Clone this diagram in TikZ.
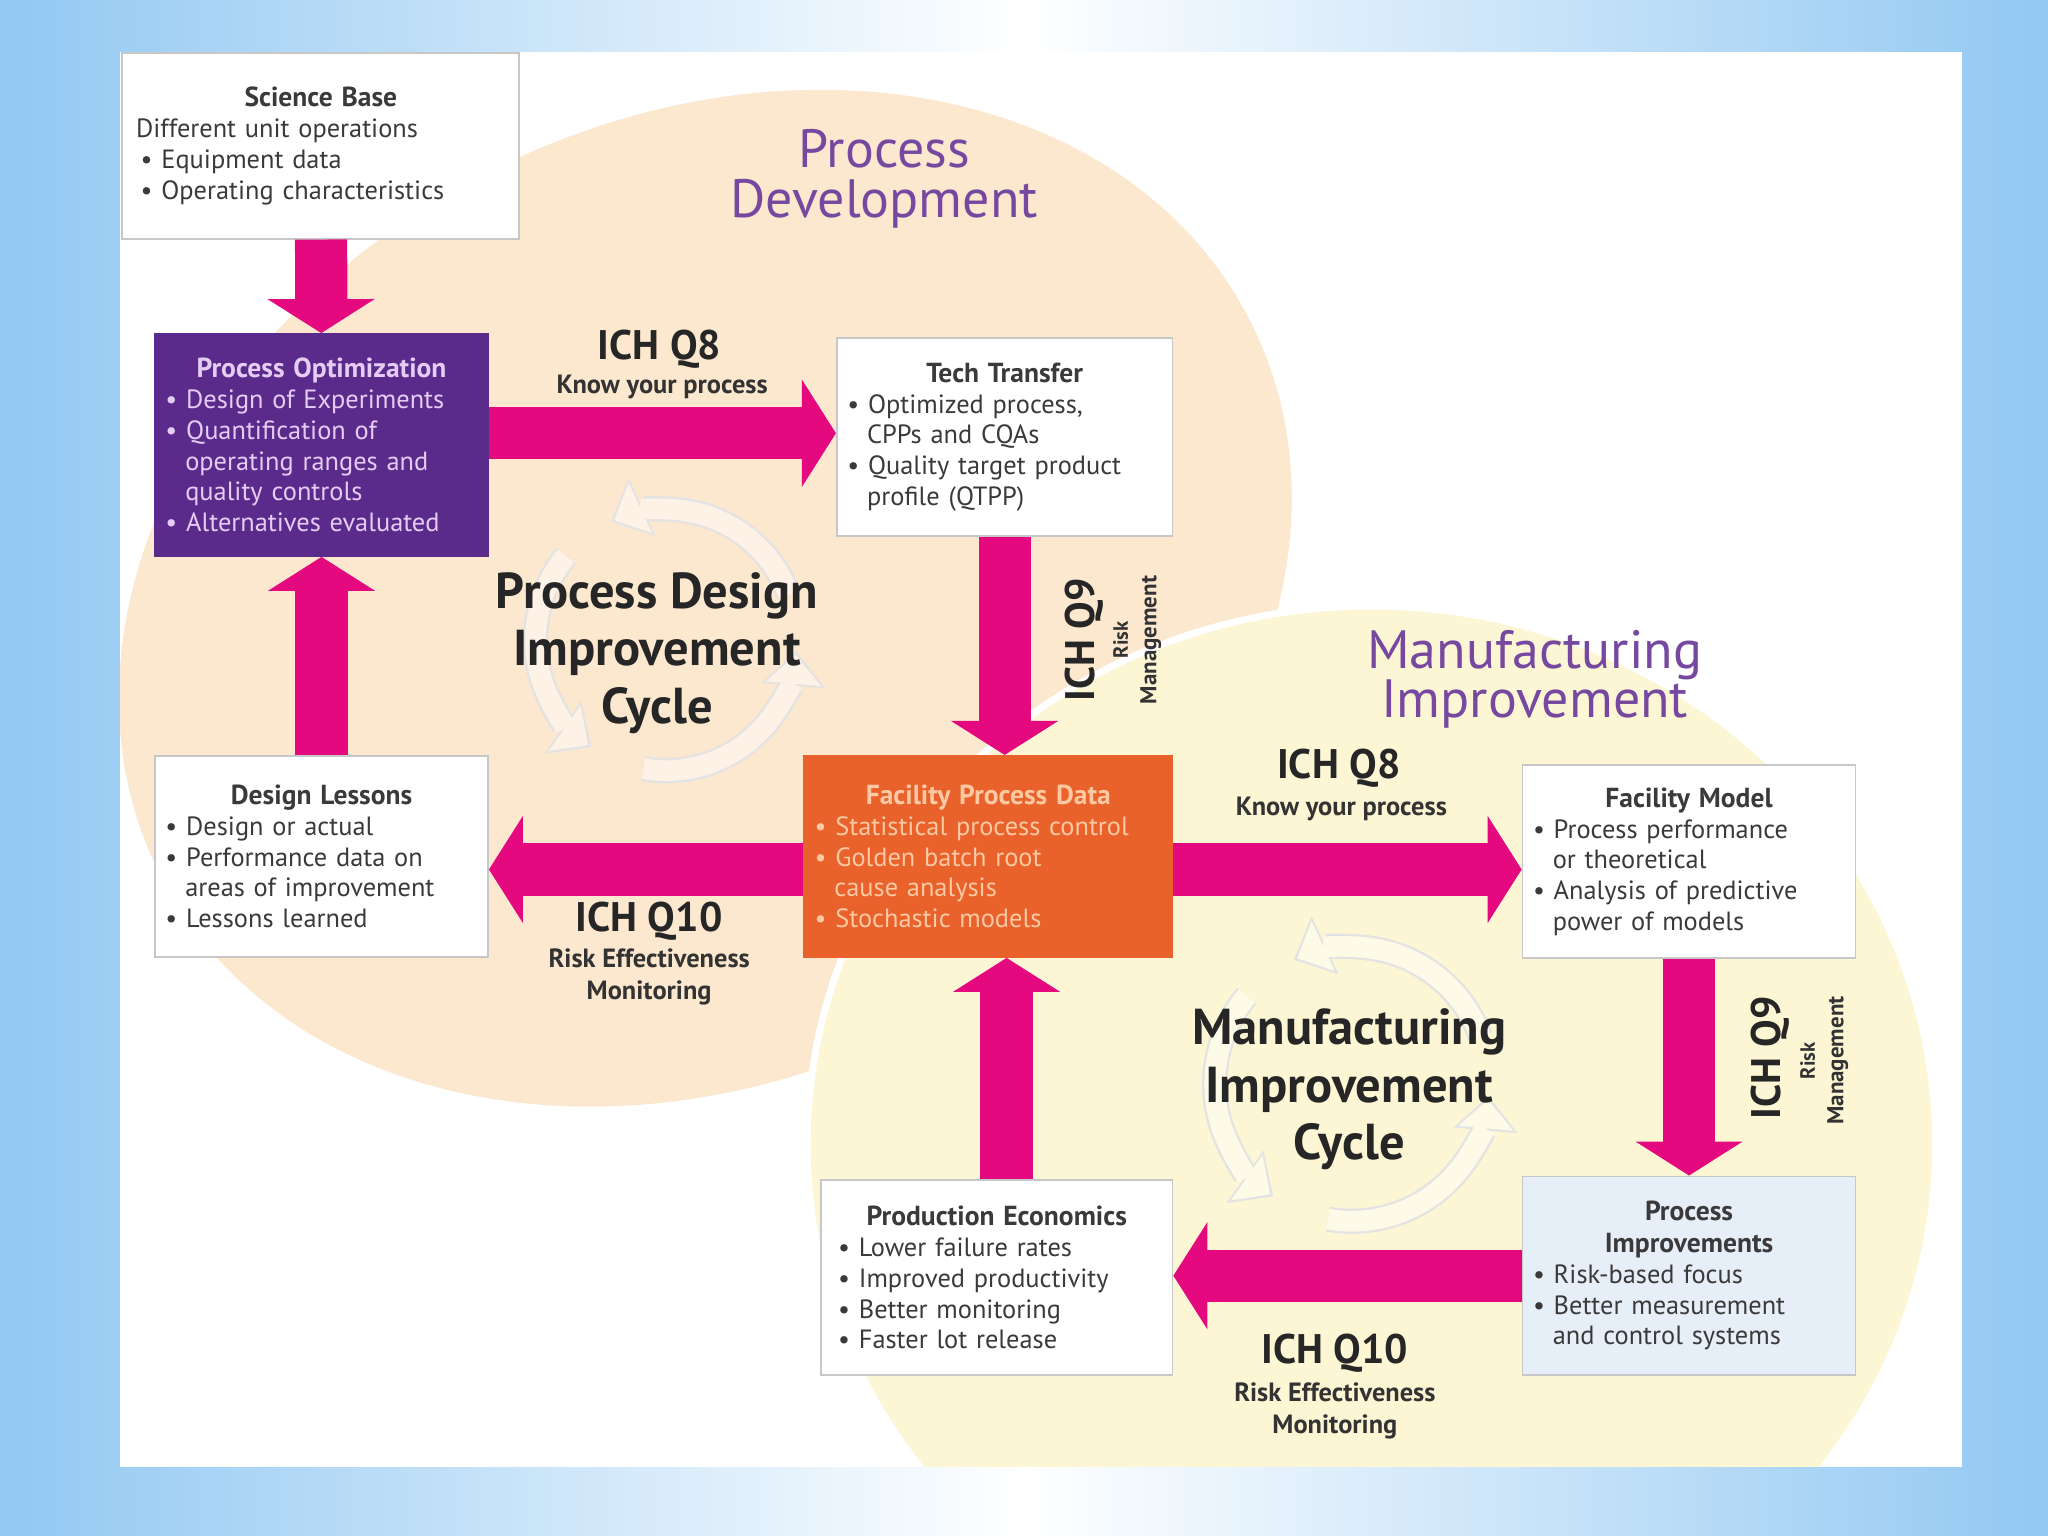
\documentclass[tikz,border=0pt]{standalone}
\usepackage{fontspec}
\setmainfont{PT Sans}
\usetikzlibrary{arrows.meta,calc}
\definecolor{sky}{HTML}{92C8F2}
\definecolor{peach}{HTML}{FCE7CF}
\definecolor{cream}{HTML}{FCF6D4}
\definecolor{mag}{HTML}{E5097F}
\definecolor{purp}{HTML}{5B2B8C}
\definecolor{purptxt}{HTML}{E4CCF4}
\definecolor{orng}{HTML}{E9622C}
\definecolor{orngtxt}{HTML}{FDC8A2}
\definecolor{ttl}{HTML}{7648A0}
\definecolor{pifill}{HTML}{E6EEF8}
\definecolor{txt}{HTML}{3A3A3A}
\begin{document}
\begin{tikzpicture}[x=0.02cm,y=-0.02cm,
  box/.style={draw=black!22, line width=0.8pt, fill=white, anchor=north west,
    inner xsep=0.16cm, inner ysep=0pt, align=left, text=txt,
    font=\fontsize{11.5}{13.4}\selectfont},
  flow/.style={draw=mag, line width=0.8cm,
    -{Triangle[width=1.64cm,length=0.52cm,line width=0pt]}},
  ich/.style={font=\fontsize{18}{20}\selectfont\bfseries, text=black!85},
  ichsub/.style={font=\fontsize{11.5}{13}\selectfont\bfseries, text=black!80},
  bigttl/.style={font=\fontsize{23.5}{21.5}\selectfont, text=ttl, align=center},
  cyc/.style={font=\fontsize{22}{25}\selectfont\bfseries, text=black!85, align=center},
  cycout/.style={line width=11pt, draw=black!11,
    -{Triangle[width=28pt,length=15pt,line width=0pt]}},
  cycin/.style={line width=9pt, draw=white!45!#1, shorten >=1.6pt,
    -{Triangle[width=24pt,length=12.5pt,line width=0pt]}}
]
% background
\shade[left color=sky, right color=sky, middle color=white] (0,0) rectangle (1568,1176);
\fill[white] (92,40) rectangle (1502,1123);
\begin{scope}
  \clip (92,40) rectangle (1502,1123);
  \fill[peach, rotate around={27:(540,458)}] (540,458) ellipse[x radius=468, y radius=366];
  \filldraw[fill=cream, draw=white, line width=3pt] (1050,876) ellipse[x radius=432, y radius=412];
\end{scope}

% cycle icons
\coordinate (c1) at (510,490);
\coordinate (c2) at (1035,830);
\foreach \a in {100,220,340}{
  \draw[cycout] ($(c1)+(\a:100)$) arc[start angle=\a, end angle=\a-95, radius=100];
  \draw[cycin=peach] ($(c1)+(\a:100)$) arc[start angle=\a, end angle=\a-95, radius=100];
  \draw[cycout] ($(c2)+(\a:105)$) arc[start angle=\a, end angle=\a-95, radius=105];
  \draw[cycin=cream] ($(c2)+(\a:105)$) arc[start angle=\a, end angle=\a-95, radius=105];
}

% boxes
\node[box, text width=5.76cm, minimum height=2.84cm] (sb) at (93,40)
  {{\centering\fontsize{12}{14}\selectfont\bfseries Science Base\par}
   \hspace*{0.05cm}Different unit operations\\
   \hspace*{0.12cm}• Equipment data\\
   \hspace*{0.12cm}• Operating characteristics};
\node[box, fill=purp, draw=purp, text=purptxt, text width=4.78cm, minimum height=3.4cm] (po) at (118,255)
  {{\centering\fontsize{12}{14}\selectfont\bfseries Process Optimization\par}
   • Design of Experiments\\
   • Quantification of\\
   \hspace*{0.75em}operating ranges and\\
   \hspace*{0.75em}quality controls\\
   • Alternatives evaluated};
\node[box, text width=4.82cm, minimum height=3.04cm] (tt) at (640,258)
  {{\centering\fontsize{12}{14}\selectfont\bfseries Tech Transfer\par}
   • Optimized process,\\
   \hspace*{0.75em}CPPs and CQAs\\
   • Quality target product\\
   \hspace*{0.75em}profile (QTPP)};
\node[box, text width=4.78cm, minimum height=3.08cm] (dl) at (118,578)
  {{\centering\fontsize{12}{14}\selectfont\bfseries Design Lessons\par}
   • Design or actual\\
   • Performance data on\\
   \hspace*{0.75em}areas of improvement\\
   • Lessons learned};
\node[box, fill=orng, draw=orng, text=orngtxt, text width=5.32cm, minimum height=3.08cm] (fpd) at (615,578)
  {{\centering\fontsize{12}{14}\selectfont\bfseries Facility Process Data\par}
   • Statistical process control\\
   • Golden batch root\\
   \hspace*{0.75em}cause analysis\\
   • Stochastic models};
\node[box, text width=4.78cm, minimum height=2.96cm] (fm) at (1165,585)
  {{\centering\fontsize{12}{14}\selectfont\bfseries Facility Model\par}
   • Process performance\\
   \hspace*{0.75em}or theoretical\\
   • Analysis of predictive\\
   \hspace*{0.75em}power of models};
\node[box, fill=pifill, text width=4.78cm, minimum height=3.04cm] (pi) at (1165,900)
  {{\centering\fontsize{12}{14}\selectfont\bfseries Process\\Improvements\par}
   • Risk-based focus\\
   • Better measurement\\
   \hspace*{0.75em}and control systems};
\node[box, text width=5.06cm, minimum height=2.98cm] (pe) at (628,903)
  {{\centering\fontsize{12}{14}\selectfont\bfseries Production Economics\par}
   \hspace*{0.1cm}• Lower failure rates\\
   \hspace*{0.1cm}• Improved productivity\\
   \hspace*{0.1cm}• Better monitoring\\
   \hspace*{0.1cm}• Faster lot release};

% flow arrows
\draw[flow] (sb) -- (po);
\draw[flow] ([yshift=0.18cm]po.east) -- ([yshift=0.18cm]po.east -| tt.west);
\draw[flow] (tt.south) -- (tt.south |- fpd.north);
\draw[flow] (dl.north) -- (dl.north |- po.south);
\draw[flow] ([yshift=-0.2cm]fpd.west) -- ([yshift=-0.2cm]fpd.west -| dl.east);
\draw[flow] ([yshift=-0.2cm]fpd.east) -- ([yshift=-0.2cm]fpd.east -| fm.west);
\draw[flow] (fm.south) -- (fm.south |- pi.north);
\draw[flow] (pi.west) -- (pi.west -| pe.east);
\draw[flow] ([xshift=0.15cm]pe.north) -- ([xshift=0.15cm]pe.north |- fpd.south);

% titles
\node[bigttl] (pdev) at (677,137) {Process\\Development};
\node[bigttl] (mimp) at (1175,520) {Manufacturing\\Improvement};
\node[cyc] (pdc) at (503,500) {Process Design\\Improvement\\Cycle};
\node[cyc] (mic) at (1033,834) {Manufacturing\\Improvement\\Cycle};

% ICH labels
\node[ich] (q8a) at (505,267) {ICH Q8};
\node[ichsub] (q8as) at (507,296) {Know your process};
\node[ich] (q8b) at (1025,588) {ICH Q8};
\node[ichsub] (q8bs) at (1027,619) {Know your process};
\node[ich] (q10a) at (497,705) {ICH Q10};
\node[ichsub, align=center, font=\fontsize{11.5}{14}\selectfont\bfseries] (q10as) at (497,748) {Risk Effectiveness\\Monitoring};
\node[ich] (q10b) at (1022,1036) {ICH Q10};
\node[ichsub, align=center, font=\fontsize{11.5}{14}\selectfont\bfseries] (q10bs) at (1022,1080) {Risk Effectiveness\\Monitoring};
\node[ich, rotate=90] (q9a) at (830,490) {ICH Q9};
\node[ichsub, rotate=90, font=\fontsize{9}{10}\selectfont\bfseries] (q9ar) at (858,490) {Risk};
\node[ichsub, rotate=90, font=\fontsize{10}{11}\selectfont\bfseries] (q9am) at (881,490) {Management};
\node[ich, rotate=90] (q9b) at (1355,810) {ICH Q9};
\node[ichsub, rotate=90, font=\fontsize{9}{10}\selectfont\bfseries] (q9br) at (1384,812) {Risk};
\node[ichsub, rotate=90, font=\fontsize{10}{11}\selectfont\bfseries] (q9bm) at (1407,812) {Management};
\end{tikzpicture}
\end{document}
